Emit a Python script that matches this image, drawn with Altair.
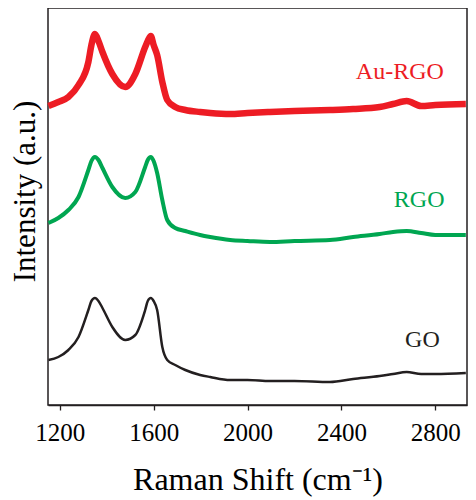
import altair as alt
import pandas as pd

# Raman shift grid (cm^-1)
wavenumber = [1152, 1194, 1237, 1280, 1322, 1335, 1350, 1365, 1382, 1424, 1479, 1522,
              1564, 1575, 1588, 1600, 1615, 1637, 1658, 1692, 1735, 1798, 1841, 1926,
              2000, 2096, 2200, 2351, 2450, 2563, 2620, 2678, 2740, 2800, 2930]

# Intensities (arbitrary units, offset stacked)
au_rgo = [299, 303, 308, 320, 343, 360, 371, 364, 353, 331, 318, 331,
          358, 364, 369, 360, 350, 323, 305, 298, 295, 293, 292, 291,
          292, 293, 294, 295, 296, 298, 301, 304, 299, 300, 301]
rgo = [182, 187, 195, 208, 235, 244, 248, 245, 237, 218, 207, 213,
       238, 245, 248, 244, 232, 205, 185, 177, 174, 170, 168, 165,
       164, 163, 164, 165, 168, 171, 173, 174, 172, 170, 170]
go = [45, 48, 55, 68, 95, 104, 107, 104, 97, 78, 65, 70,
      95, 104, 107, 104, 95, 58, 45, 40, 35, 30, 28, 25,
      25, 24, 24, 23, 26, 29, 31, 33, 31, 31, 32]

series_names = ["Au-RGO", "RGO", "GO"]
series_colors = ["#ED1C24", "#00A651", "#231F20"]
series_widths = [6.5, 4, 2.5]
label_x = [2649, 2731, 2745]
label_y = [333, 205, 65]
x_ticks = [1200, 1600, 2000, 2400, 2800]

FONT = "Liberation Serif"

xscale = alt.Scale(domain=[1150, 2935], nice=False, zero=False)
yscale = alt.Scale(domain=[0, 397], nice=False, zero=False)

x_axis = alt.Axis(
    values=x_ticks, format="d", title="Raman Shift (cm⁻¹)",
    labelFont=FONT, labelFontSize=25, labelColor="#000",
    titleFont=FONT, titleFontSize=32, titleFontWeight="normal", titleColor="#000",
    titleBaseline="alphabetic", titleY=84,
    tickSize=5, tickColor="#231F20", tickWidth=1.3,
    domainColor="#231F20", domainWidth=1.5, labelPadding=10, grid=False)
y_axis = alt.Axis(
    title="Intensity (a.u.)", labels=False, ticks=False, domain=False, grid=False,
    titleFont=FONT, titleFontSize=31, titleFontWeight="normal", titleColor="#000",
    titleAngle=270, titleBaseline="alphabetic", titleAlign="center",
    titleX=-14, titleY=183)

layers = []
for name, vals, col, sw in zip(series_names, [au_rgo, rgo, go], series_colors, series_widths):
    d = pd.DataFrame({"x": wavenumber, "y": vals})
    layers.append(alt.Chart(d).mark_line(interpolate="monotone", color=col, strokeWidth=sw).encode(
        x=alt.X("x:Q", scale=xscale, axis=x_axis),
        y=alt.Y("y:Q", scale=yscale, axis=y_axis),
    ))

labels_df = pd.DataFrame({"x": label_x, "y": label_y, "series": series_names})
texts = alt.Chart(labels_df).mark_text(font=FONT, fontSize=24, align="center", baseline="middle").encode(
    x=alt.X("x:Q", scale=xscale, axis=x_axis),
    y=alt.Y("y:Q", scale=yscale, axis=y_axis),
    text="series:N",
    color=alt.Color("series:N", scale=alt.Scale(domain=series_names, range=series_colors), legend=None),
)

chart = alt.layer(*layers, texts).properties(
    width=419, height=397,
    padding={"left": 40, "top": 0, "right": 1, "bottom": 92},
    autosize="none",
).configure_view(stroke="#231F20", strokeWidth=1.5
).configure_axis(labelFont=FONT, titleFont=FONT
).configure_text(font=FONT)

chart.save("out.html", embed_options={"renderer": "svg", "actions": False})
